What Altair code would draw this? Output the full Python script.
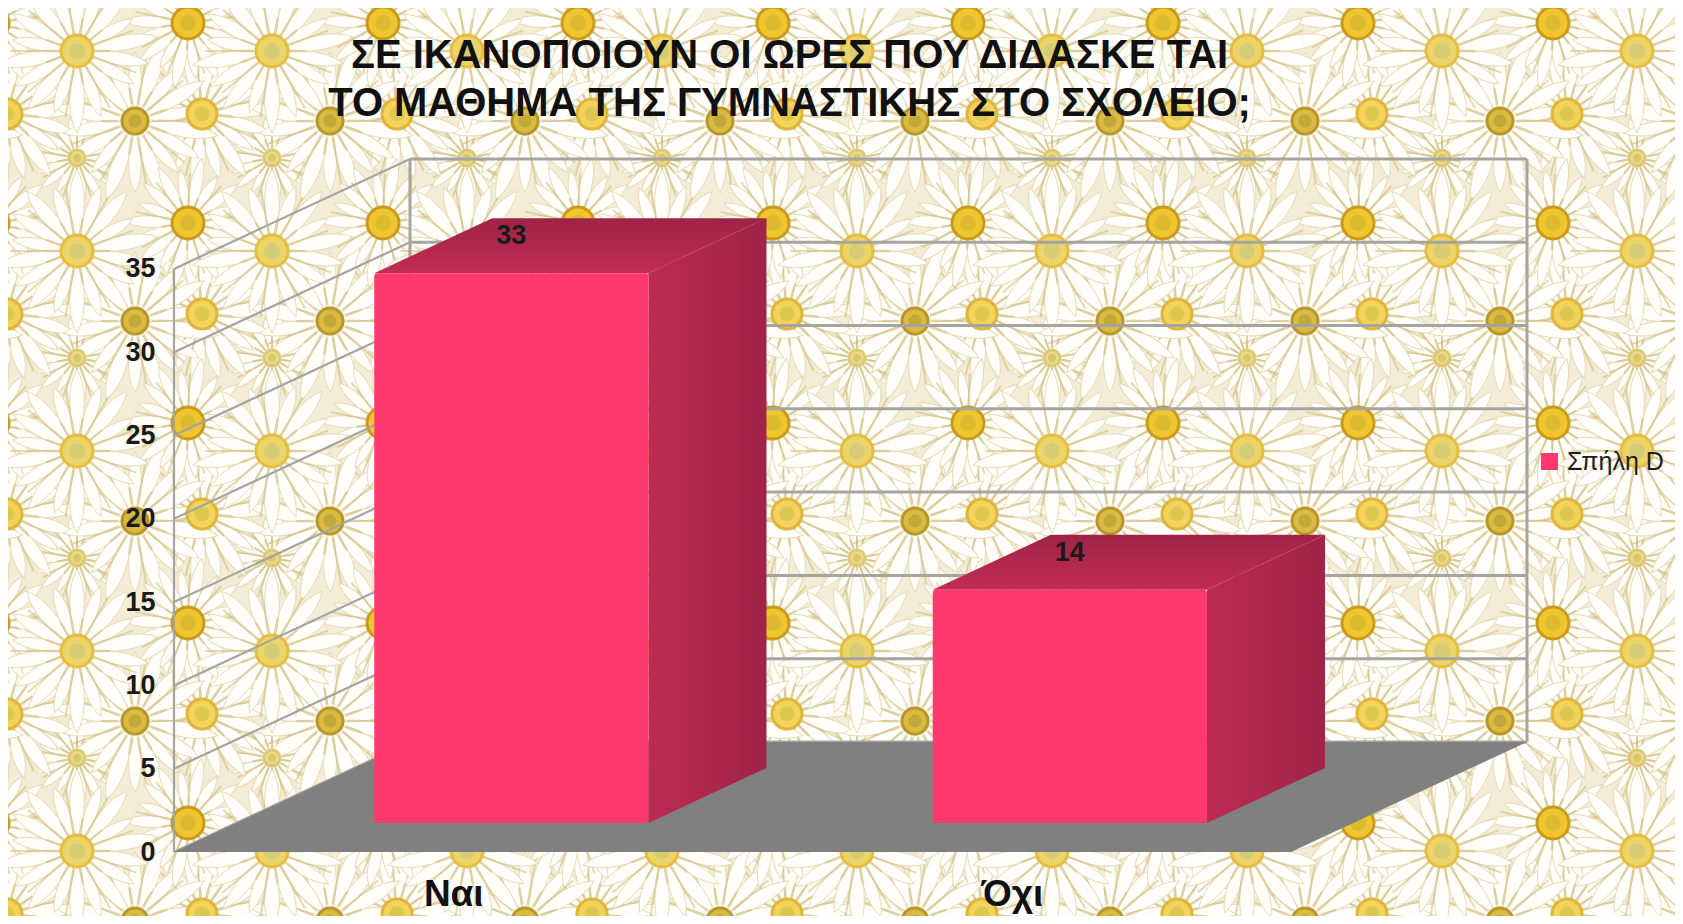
import math
import altair as alt
import pandas as pd

# ---- chart values
categories = ["Ναι", "Όχι"]
values = [33, 14]
series_name = "Σπήλη D"
y_ticks = [0, 5, 10, 15, 20, 25, 30, 35]
title_lines = ["ΣΕ ΙΚΑΝΟΠΟΙΟΥΝ ΟΙ ΩΡΕΣ ΠΟΥ ΔΙΔΑΣΚΕ ΤΑΙ",
               "ΤΟ ΜΑΘΗΜΑ ΤΗΣ ΓΥΜΝΑΣΤΙΚΗΣ ΣΤΟ ΣΧΟΛΕΙΟ;"]

# ---- oblique projection (category units, depth 0..1, value units)
W, H = 1667, 908
PX_CAT, PX_VAL = 558.5, 16.66
ORIGIN_X, ORIGIN_Y = 174, 852          # page pixels of the front-left floor corner
SKEW_X, SKEW_Y = 236 / PX_CAT, 110 / PX_VAL
BAR_CENTRE, BAR_HALF = 0.4925, 0.2455
DEPTH0, DEPTH1 = 0.264, 0.764

x_scale = alt.Scale(domain=[(8 - ORIGIN_X) / PX_CAT, (8 + W - ORIGIN_X) / PX_CAT], nice=False, zero=False)
y_scale = alt.Scale(domain=[(ORIGIN_Y - 8 - H) / PX_VAL, (ORIGIN_Y - 8) / PX_VAL], nice=False, zero=False)


def px(u, d=0.0):
    return u + d * SKEW_X


def py(v, d=0.0):
    return v + d * SKEW_Y


label_expr = f"datum.value < 1 ? '{categories[0]}' : '{categories[1]}'"
x_axis = alt.Axis(values=[0.5, 1.5], labelExpr=label_expr, title=None, grid=False, domain=False, ticks=False,
                  orient="bottom", offset=-40, labelPadding=0, labelFontSize=37, labelFontWeight="bold",
                  labelFont="Liberation Sans", labelColor="#111111", zindex=1)
y_axis = alt.Axis(values=y_ticks, title=None, grid=False, domain=False, ticks=False, orient="left", offset=-147,
                  labelPadding=0, labelFontSize=27, labelFontWeight="bold", labelFont="Liberation Sans",
                  labelColor="#1a1a1a", zindex=1)
X = alt.X("x:Q", scale=x_scale, axis=x_axis)
Y = alt.Y("y:Q", scale=y_scale, axis=y_axis)

# ---- daisy wallpaper (decoration): one 195x200 tile of five flowers
TILE_W, TILE_H = 195, 200
flower_types = [
    # x, y, petal radius, eye radius, eye colour, eye rim, inner colour, turn
    (69, 150, 50, 8, "#e8d98e", "#ddc873", "#dcc766", 10),
    (-1, 106, 78, 15, "#f3d35c", "#dfb53a", "#dcc84f", 5),
    (127, 113, 84, 13, "#d9bb42", "#b8962a", "#c2a838", 20),
    (180, 15, 66, 16, "#efc62f", "#c99a1c", "#dcb92e", 12),
    (69, 43, 82, 16, "#ecd468", "#e6bd3f", "#d6cc76", 0),
]
PETAL_LEN = [1.0, 0.84, 0.95, 0.78, 1.0, 0.88, 0.8, 0.97, 0.85, 1.0, 0.8, 0.92, 0.86, 0.98, 0.8, 0.9, 0.95, 0.82]


def petal_path():
    out = []
    n = len(PETAL_LEN)
    p = lambda r, t: f"{r * math.sin(t):.3f} {-r * math.cos(t):.3f}"
    for i, ln in enumerate(PETAL_LEN):
        a = 2 * math.pi * i / n
        s = 0.26
        out.append(f"M0 0Q{p(0.7 * ln, a - s)} {p(ln, a)}Q{p(0.7 * ln, a + s)} 0 0Z")
    return "".join(out)


def ray_path():
    out = []
    n = len(PETAL_LEN)
    for i, ln in enumerate(PETAL_LEN):
        a = 2 * math.pi * (i + 0.5) / n
        r0, r1 = 0.2, 0.4 + 0.42 * ln * (i % 2)
        out.append(f"M{r0 * math.sin(a):.3f} {-r0 * math.cos(a):.3f}L{r1 * math.sin(a):.3f} {-r1 * math.cos(a):.3f}")
    return "".join(out)


PETALS, RAYS = petal_path(), ray_path()
layers, eye_layers = [], []
for fx, fy, pr, er, eye, rim, inner, turn in flower_types:
    rows = []
    for ix in range(-1, 10):
        for iy in range(-1, 6):
            page_x = 8 + fx + ix * TILE_W
            page_y = 8 + fy + iy * TILE_H
            rows.append({"x": (page_x - ORIGIN_X) / PX_CAT, "y": (ORIGIN_Y - page_y) / PX_VAL})
    df = pd.DataFrame(rows)
    size = (2 * pr) ** 2
    layers.append(alt.Chart(df).mark_point(shape=PETALS, filled=True, fill="#fffefa", stroke="#e6dbb6",
                                           strokeWidth=1, opacity=1, size=size, angle=turn, clip=True).encode(x=X, y=Y))
    layers.append(alt.Chart(df).mark_point(shape=RAYS, filled=False, stroke="#cdb66c", strokeWidth=2,
                                           opacity=0.5, size=size, angle=turn, clip=True).encode(x=X, y=Y))
    eye_layers.append(alt.Chart(df).mark_point(shape="circle", filled=True, fill=eye, stroke=rim, strokeWidth=3,
                                               opacity=1, size=(2 * er) ** 2, clip=True).encode(x=X, y=Y))
    eye_layers.append(alt.Chart(df).mark_point(shape="circle", filled=True, fill=inner, strokeWidth=0,
                                               opacity=1, size=er ** 2, clip=True).encode(x=X, y=Y))
layers += eye_layers

# ---- walls
top = y_ticks[-1]
side_rows, back_rows = [], []
for t in y_ticks:
    side_rows += [{"k": f"s{t}", "o": 0, "x": px(0, 0), "y": py(t, 0)},
                  {"k": f"s{t}", "o": 1, "x": px(0, 1), "y": py(t, 1)}]
    back_rows += [{"k": f"b{t}", "o": 0, "x": px(0, 1), "y": py(t, 1)},
                  {"k": f"b{t}", "o": 1, "x": px(2, 1), "y": py(t, 1)}]
side_rows += [{"k": "v0", "o": 0, "x": px(0, 0), "y": py(0, 0)}, {"k": "v0", "o": 1, "x": px(0, 0), "y": py(top, 0)}]
back_rows += [{"k": "v1", "o": 0, "x": px(0, 1), "y": py(0, 1)}, {"k": "v1", "o": 1, "x": px(0, 1), "y": py(top, 1)},
              {"k": "v2", "o": 0, "x": px(2, 1), "y": py(0, 1)}, {"k": "v2", "o": 1, "x": px(2, 1), "y": py(top, 1)}]
GRID = "#a4a4a0"
layers.append(alt.Chart(pd.DataFrame(side_rows)).mark_line(color=GRID, strokeWidth=2.2).encode(
    x=X, y=Y, detail="k:N", order="o:Q"))
layers.append(alt.Chart(pd.DataFrame(back_rows)).mark_line(color=GRID, strokeWidth=3).encode(
    x=X, y=Y, detail="k:N", order="o:Q"))

# ---- floor
floor = pd.DataFrame([{"y": py(0, d), "x": px(0, d), "x2": px(2, d)} for d in (0, 1)])
layers.append(alt.Chart(floor).mark_area(orient="horizontal", color="#808080").encode(
    y=Y, x=X, x2="x2:Q"))

# ---- 3-D bars
side_grad = alt.Gradient(gradient="linear", x1=0, x2=1, y1=0, y2=0,
                         stops=[alt.GradientStop(color="#bb2b52", offset=0),
                                alt.GradientStop(color="#a12348", offset=1)])
top_grad = alt.Gradient(gradient="linear", x1=0, x2=0, y1=1, y2=0,
                        stops=[alt.GradientStop(color="#c22c55", offset=0),
                               alt.GradientStop(color="#9f2347", offset=1)])
front_rows, top_rows, side_face_rows = [], [], []
for i, (c, v) in enumerate(zip(categories, values)):
    u0, u1 = i + BAR_CENTRE - BAR_HALF, i + BAR_CENTRE + BAR_HALF
    front_rows.append({"series": series_name, "x": px(u0, DEPTH0), "x2": px(u1, DEPTH0),
                       "y": py(0, DEPTH0), "y2": py(v, DEPTH0), "v": v,
                       "lx": px(i + BAR_CENTRE, DEPTH0), "ly": py(v, DEPTH0)})
    for d in (DEPTH0, DEPTH1):
        top_rows.append({"c": c, "y": py(v, d), "x": px(u0, d), "x2": px(u1, d)})
        side_face_rows.append({"c": c, "x": px(u1, d), "y": py(0, d), "y2": py(v, d)})

layers.append(alt.Chart(pd.DataFrame(side_face_rows)).mark_area(color=side_grad).encode(
    x=X, y=Y, y2="y2:Q", detail="c:N"))
layers.append(alt.Chart(pd.DataFrame(top_rows)).mark_area(orient="horizontal", color=top_grad).encode(
    y=Y, x=X, x2="x2:Q", detail="c:N"))
front_df = pd.DataFrame(front_rows)
layers.append(alt.Chart(front_df).mark_bar(cornerRadius=3).encode(
    x=X, x2="x2:Q", y=Y, y2="y2:Q",
    color=alt.Color("series:N", scale=alt.Scale(domain=[series_name], range=["#ff386d"]),
                    legend=alt.Legend(title=None, orient="none", legendX=1529, legendY=441, padding=0,
                                      symbolType="square", symbolSize=289, symbolStrokeWidth=0,
                                      labelFontSize=25, labelFont="Liberation Sans", labelColor="#1c1c1c",
                                      labelOffset=5, rowPadding=0))))

# ---- value labels
layers.append(alt.Chart(front_df).mark_text(font="Liberation Sans", fontSize=27, fontWeight="bold", color="#1a1a1a",
                                            baseline="middle", align="center", dy=-37).encode(
    x=alt.X("lx:Q", scale=x_scale, axis=x_axis), y=alt.Y("ly:Q", scale=y_scale, axis=y_axis), text="v:Q"))

chart = alt.layer(*layers).properties(
    width=W, height=H, padding=0,
    autosize=alt.AutoSizeParams(type="none"),
    background="#f3ecd6",
    title=alt.TitleParams(text=title_lines, font="Liberation Sans", fontSize=40, fontWeight="bold", color="#111111",
                          anchor="middle", align="center", dx=-52, dy=120, lineHeight=48),
).configure_view(stroke=None, fill="#f3ecd6")

chart.save("out.html", embed_options={"renderer": "svg", "actions": False})
